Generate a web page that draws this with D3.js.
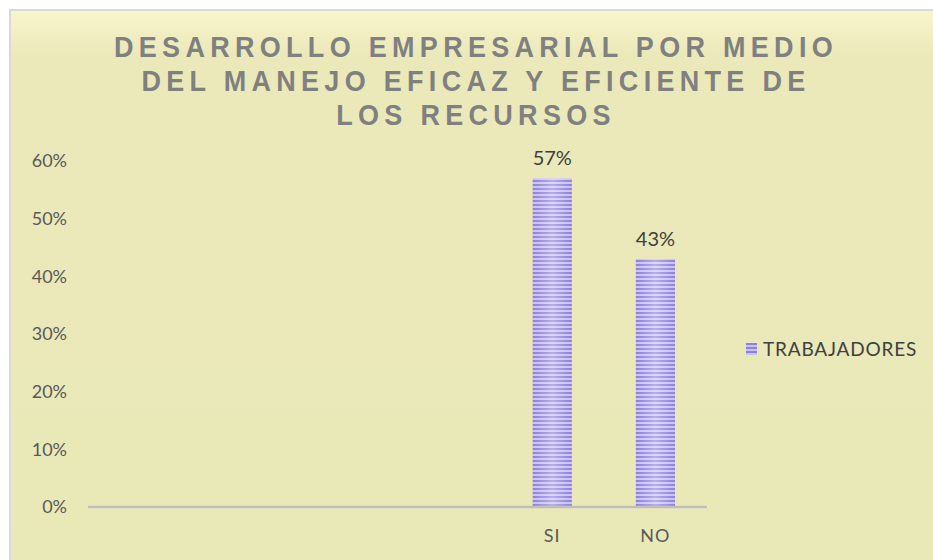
<!DOCTYPE html>
<html>
<head>
<meta charset="utf-8">
<script src="https://d3js.org/d3.v7.min.js"></script>
<style>
  body { margin: 0; background: #fff; }
</style>
</head>
<body>
<svg id="chart"></svg>
<script>
// chart data
var categories = ["", "", "", "", "SI", "NO"];
var trabajadores = [null, null, null, null, 0.57, 0.43];
var yTicks = [0, 0.1, 0.2, 0.3, 0.4, 0.5, 0.6];
var titleLines = ["DESARROLLO EMPRESARIAL POR MEDIO", "DEL MANEJO EFICAZ Y EFICIENTE DE", "LOS RECURSOS"];
var seriesName = "TRABAJADORES";

var W = 933, H = 560;
var svg = d3.select("#chart").attr("width", W).attr("height", H);
var defs = svg.append("defs");

// background gradient
var bg = defs.append("linearGradient").attr("id", "bg")
    .attr("x1", 0).attr("y1", 0).attr("x2", 0).attr("y2", 1);
bg.append("stop").attr("offset", "0%").attr("stop-color", "#f8f6cb");
bg.append("stop").attr("offset", "8%").attr("stop-color", "#ebe9ba");
bg.append("stop").attr("offset", "100%").attr("stop-color", "#e9e8b7");

// stripe pattern for the bars
var pat = defs.append("pattern").attr("id", "stripes")
    .attr("patternUnits", "userSpaceOnUse")
    .attr("width", 10).attr("height", 4);
pat.append("rect").attr("width", 10).attr("height", 4).attr("fill", "#c9c1f4");
pat.append("rect").attr("width", 10).attr("height", 2).attr("fill", "#8e80e0");

var shine = defs.append("linearGradient").attr("id", "shine")
    .attr("x1", 0).attr("y1", 0).attr("x2", 1).attr("y2", 0);
shine.append("stop").attr("offset", "0%").attr("stop-color", "#fff").attr("stop-opacity", 0);
shine.append("stop").attr("offset", "50%").attr("stop-color", "#fff").attr("stop-opacity", 0.35);
shine.append("stop").attr("offset", "100%").attr("stop-color", "#fff").attr("stop-opacity", 0);

svg.append("rect").attr("x", 10).attr("y", 10).attr("width", W).attr("height", H)
    .attr("fill", "url(#bg)").attr("stroke", "#d9d9d9").attr("stroke-width", 2);

// title (narrow letters, wide spacing)
svg.append("g").selectAll("text").data(titleLines).enter().append("text")
    .attr("transform", (d, i) => "translate(476," + (57 + i * 34) + ") scale(0.9,1)")
    .attr("text-anchor", "middle")
    .style("font-family", "'Liberation Sans', Arial, sans-serif")
    .style("font-weight", "bold")
    .style("font-size", "30px")
    .style("letter-spacing", "5.9px")
    .attr("fill", "#808080")
    .text(d => d);

var x = d3.scaleBand().domain(d3.range(categories.length)).range([88, 707]).paddingInner(0.62).paddingOuter(0.31);
var y = d3.scaleLinear().domain([0, 0.6]).range([507, 161]);

// y axis labels
var yAxis = d3.axisLeft(y).tickValues(yTicks).tickFormat(d3.format(".0%")).tickSize(0).tickPadding(0);
var ya = svg.append("g").attr("transform", "translate(67,0)").call(yAxis);
ya.select(".domain").remove();
ya.selectAll("text")
    .style("font-family", "Lato, 'Open Sans', sans-serif")
    .style("font-size", "18px")
    .attr("fill", "#595959")
    .attr("dy", "0.32em");

// bars
var bars = svg.append("g").selectAll("g").data(trabajadores.map((v, i) => ({v: v, i: i})).filter(d => d.v != null))
    .enter().append("g");
bars.append("rect")
    .attr("x", d => x(d.i)).attr("y", d => y(d.v))
    .attr("width", x.bandwidth()).attr("height", d => y(0) - y(d.v))
    .attr("fill", "url(#stripes)");
bars.append("rect")
    .attr("x", d => x(d.i)).attr("y", d => y(d.v))
    .attr("width", x.bandwidth()).attr("height", d => y(0) - y(d.v))
    .attr("fill", "url(#shine)");
bars.append("text")
    .attr("x", d => x(d.i) + x.bandwidth() / 2)
    .attr("y", d => y(d.v) - 13)
    .attr("text-anchor", "middle")
    .style("font-family", "Lato, 'Open Sans', sans-serif")
    .style("font-size", "20px")
    .attr("fill", "#404040")
    .text(d => d3.format(".0%")(d.v));

// x axis
var xAxis = d3.axisBottom(x).tickFormat(i => categories[i]).tickSize(0).tickPadding(22);
var xa = svg.append("g").attr("transform", "translate(0,507)").call(xAxis);
xa.select(".domain").attr("stroke", "#bfbfbf").attr("stroke-width", 2.5).attr("d", "M88,0H707");
xa.selectAll("text")
    .style("font-family", "Lato, 'Open Sans', sans-serif")
    .style("font-size", "18px")
    .style("letter-spacing", "1px")
    .attr("fill", "#595959");

// legend
var lg = svg.append("g").attr("transform", "translate(746,343)");
lg.append("rect").attr("width", 11).attr("height", 12).attr("fill", "url(#stripes)");
lg.append("text").attr("x", 17).attr("y", 13)
    .style("font-family", "Lato, 'Open Sans', sans-serif")
    .style("font-size", "19px")
    .style("letter-spacing", "0.8px")
    .attr("fill", "#404040")
    .text(seriesName);
</script>
</body>
</html>
